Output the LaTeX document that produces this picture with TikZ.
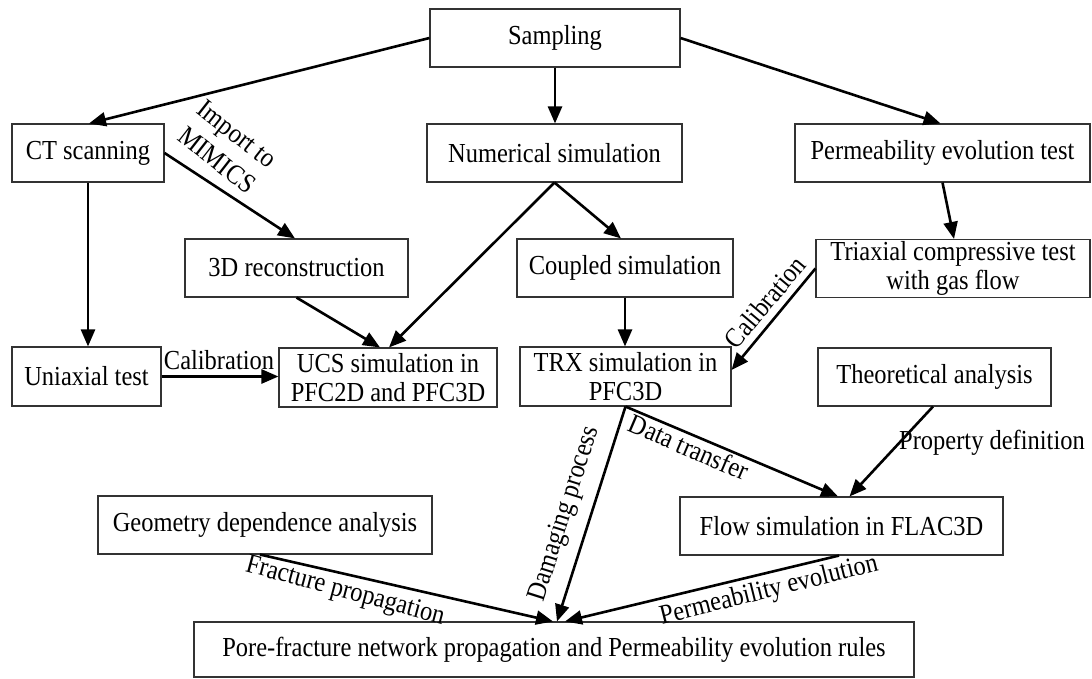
\documentclass[tikz,border=0pt]{standalone}
\usepackage{fontspec}
\setmainfont{Liberation Serif}[FakeStretch=0.89]
\usetikzlibrary{arrows.meta}
\begin{document}
\begin{tikzpicture}[x=1pt,y=-1pt,
  box/.style={draw=black!80, line width=1.1pt, rectangle, inner sep=0pt, align=center,
    font=\fontsize{27.5}{29}\selectfont},
  conn/.style={line width=2.6pt, -{Triangle[length=17pt,width=14pt]}},
  lbl/.style={inner sep=0pt, font=\fontsize{27.5}{30}\selectfont, align=center}]
\useasboundingbox (0,0) rectangle (1092,679);
% boxes
\node[box, minimum width=250pt, minimum height=58pt] (samp) at (555,38) {Sampling};
\node[box, minimum width=152pt, minimum height=58pt] (ct) at (88,153) {CT scanning};
\node[box, minimum width=255pt, minimum height=58pt] (num) at (554.5,153) {Numerical simulation};
\node[box, minimum width=295pt, minimum height=58pt] (perm) at (942.5,153) {Permeability evolution test};
\node[box, minimum width=223pt, minimum height=58pt] (rec) at (296.5,268) {3D reconstruction};
\node[box, minimum width=216pt, minimum height=58pt] (cpl) at (625,268) {Coupled simulation};
\node[box, minimum width=274pt, minimum height=58pt] (tri) at (953,268.5) {Triaxial compressive test\\with gas flow};
\node[box, minimum width=149pt, minimum height=59pt] (uni) at (86.5,376.5) {Uniaxial test};
\node[box, minimum width=218pt, minimum height=59pt] (ucs) at (388,377.5) {UCS simulation in\\PFC2D and PFC3D};
\node[box, minimum width=211pt, minimum height=59pt] (trx) at (625.5,376.5) {TRX simulation in\\PFC3D};
\node[box, minimum width=233pt, minimum height=58pt] (the) at (934.5,377) {Theoretical analysis};
\node[box, minimum width=334pt, minimum height=58pt] (geo) at (265,525) {Geometry dependence analysis};
\node[box, minimum width=323pt, minimum height=58pt] (flow) at (841.5,526) {Flow simulation in FLAC3D};
\node[box, minimum width=720pt, minimum height=55pt] (pore) at (554,649.5) {Pore-fracture network propagation and Permeability evolution rules};
% connectors
\draw[conn] (samp.west) -- ([xshift=1pt]ct.north);
\draw[conn] (samp.south) -- (samp.south |- num.north);
\draw[conn] (samp.east) -- ([xshift=-2pt]perm.north);
\draw[conn] (ct.east) -- ([xshift=-1.5pt]rec.north);
\draw[conn] (ct.south) -- (ct.south |- uni.north);
\draw[conn] (num.south) -- ([xshift=1pt]ucs.north);
\draw[conn] (num.south) -- ([xshift=-4pt]cpl.north);
\draw[conn] (rec.south) -- ([xshift=-8pt]ucs.north);
\draw[conn] (uni.east) -- (uni.east -| ucs.west);
\draw[conn] (perm.south) -- ([xshift=1pt]tri.north);
\draw[conn] (cpl.south) -- (cpl.south |- trx.north);
\draw[conn] (tri.west) -- ([yshift=6.5pt]trx.east);
\draw[conn] (trx.south) -- ([xshift=3pt]pore.north);
\draw[conn] (trx.south) -- ([xshift=-3.5pt]flow.north);
\draw[conn] ([xshift=-1.5pt]the.south) -- ([xshift=8pt]flow.north);
\draw[conn] ([xshift=-5pt]geo.south) -- ([xshift=-1pt]pore.north);
\draw[conn] ([xshift=-2.5pt]flow.south) -- ([xshift=11pt]pore.north);
% labels
\node[lbl, rotate=-38, font=\fontsize{27.5}{33}\selectfont] (l1) at (227,147) {Import to\\MIMICS};
\node[lbl] (l2) at (219,360) {Calibration};
\node[lbl, rotate=50] (l3) at (765,302) {Calibration};
\node[lbl, rotate=72.4] (l4) at (565,514) {Damaging process};
\node[lbl, rotate=-23.2] (l5) at (689,447) {Data transfer};
\node[lbl] (l6) at (992,443) {Property definition};
\node[lbl, rotate=-15] (l7) at (345,592) {Fracture propagation};
\node[lbl, rotate=14] (l8) at (769,591) {Permeability evolution};
\end{tikzpicture}
\end{document}
